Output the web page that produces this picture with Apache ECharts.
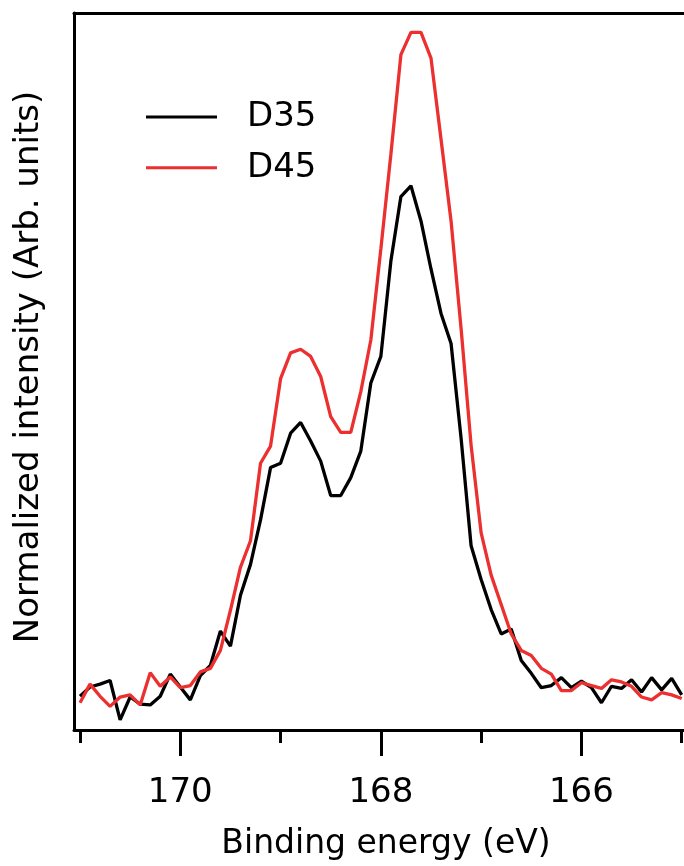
<!DOCTYPE html>
<html>
<head>
<meta charset="utf-8">
<title>S 2p spectra</title>
<script src="https://cdn.jsdelivr.net/npm/echarts@6/dist/echarts.min.js"></script>
<style>
  html, body { margin: 0; padding: 0; background: #fff; }
  #chart { width: 684px; height: 866px; }
</style>
</head>
<body>
<div id="chart"></div>
<script>
// Binding energy grid (eV), 0.1 eV steps from 171.0 down to 165.0
const energies = [
  171.0, 170.9, 170.8, 170.7, 170.6, 170.5, 170.4, 170.3, 170.2, 170.1,
  170.0, 169.9, 169.8, 169.7, 169.6, 169.5, 169.4, 169.3, 169.2, 169.1,
  169.0, 168.9, 168.8, 168.7, 168.6, 168.5, 168.4, 168.3, 168.2, 168.1,
  168.0, 167.9, 167.8, 167.7, 167.6, 167.5, 167.4, 167.3, 167.2, 167.1,
  167.0, 166.9, 166.8, 166.7, 166.6, 166.5, 166.4, 166.3, 166.2, 166.1,
  166.0, 165.9, 165.8, 165.7, 165.6, 165.5, 165.4, 165.3, 165.2, 165.1,
  165.0
];

// Normalized intensity, sample D35
const d35 = [
  4.7, 6.0, 6.4, 6.9, 1.4, 4.6, 3.6, 3.5, 4.7, 7.8,
  6.0, 4.2, 7.6, 9.0, 13.8, 11.7, 18.8, 23.1, 29.3, 36.6,
  37.2, 41.4, 42.9, 40.3, 37.5, 32.7, 32.7, 35.2, 38.9, 48.4,
  52.1, 65.4, 74.4, 75.9, 71.0, 64.3, 58.1, 53.9, 40.7, 25.7,
  21.0, 16.8, 13.4, 14.1, 9.7, 7.9, 5.9, 6.2, 7.3, 5.9,
  6.8, 5.9, 3.8, 6.1, 5.8, 7.0, 5.3, 7.3, 5.6, 7.2,
  4.9
];

// Normalized intensity, sample D45
const d45 = [
  3.8, 6.4, 4.7, 3.3, 4.6, 4.9, 3.5, 8.0, 6.1, 7.4,
  5.9, 6.2, 8.1, 8.6, 11.1, 16.7, 22.7, 26.4, 37.2, 39.6,
  49.0, 52.6, 53.1, 52.1, 49.3, 43.7, 41.5, 41.5, 47.2, 54.4,
  67.1, 80.3, 94.2, 97.3, 97.3, 93.7, 82.4, 71.0, 56.0, 39.7,
  27.5, 21.6, 17.5, 13.4, 11.1, 10.4, 8.6, 7.8, 5.5, 5.5,
  6.6, 6.2, 5.8, 7.0, 6.7, 6.1, 4.6, 4.2, 5.2, 4.9,
  4.4
];

const seriesNames = ['D35', 'D45'];
const majorTicks = [170, 168, 166];
const minorTicks = [171, 169, 167, 165];

const FONT = 'DejaVu Sans';
const X_MIN = 164.977, X_MAX = 171.06;
const LINE_W = 3.3;

const pairs = (vals) => energies.map((e, i) => [e, vals[i]]);

const chart = echarts.init(document.getElementById('chart'), null, { renderer: 'canvas' });

chart.setOption({
  animation: false,
  backgroundColor: '#ffffff',
  grid: { left: 74, top: 13, width: 610, height: 720, containLabel: false },
  legend: {
    show: true,
    orient: 'vertical',
    left: 146,
    top: 100,
    padding: 0,
    icon: 'rect',
    itemWidth: 71,
    itemHeight: 3,
    itemGap: 16.7,
    data: seriesNames,
    textStyle: { fontFamily: FONT, fontSize: 34, color: '#000', padding: [0, 0, 0, 25] }
  },
  xAxis: [
    {
      type: 'value',
      position: 'bottom',
      inverse: true,
      min: X_MIN,
      max: X_MAX,
      splitLine: { show: false },
      axisLine: { show: true, lineStyle: { color: '#000', width: 3 } },
      axisTick: { show: true, customValues: majorTicks, length: 26, lineStyle: { color: '#000', width: 3 } },
      axisLabel: { show: true, customValues: majorTicks, margin: 46, fontFamily: FONT, fontSize: 34, color: '#000' },
      name: 'Binding energy (eV)',
      nameLocation: 'middle',
      nameGap: 98,
      nameTextStyle: { fontFamily: FONT, fontSize: 33, color: '#000', padding: [0, 0, 0, 14] }
    },
    {
      type: 'value',
      position: 'bottom',
      inverse: true,
      min: X_MIN,
      max: X_MAX,
      splitLine: { show: false },
      axisLine: { show: false },
      axisTick: { show: true, customValues: minorTicks, length: 13, lineStyle: { color: '#000', width: 3 } },
      axisLabel: { show: false }
    },
    {
      type: 'value',
      position: 'top',
      inverse: true,
      min: X_MIN,
      max: X_MAX,
      splitLine: { show: false },
      axisLine: { show: true, lineStyle: { color: '#000', width: 3 } },
      axisTick: { show: false },
      axisLabel: { show: false }
    }
  ],
  yAxis: {
    type: 'value',
    min: 0,
    max: 100,
    splitLine: { show: false },
    axisLine: { show: true, lineStyle: { color: '#000', width: 3 } },
    axisTick: { show: false },
    axisLabel: { show: false },
    name: 'Normalized intensity (Arb. units)',
    nameLocation: 'middle',
    nameRotate: 90,
    nameGap: 28,
    nameTextStyle: { fontFamily: FONT, fontSize: 34, color: '#000', padding: [0, 0, 0, 9] }
  },
  series: [
    {
      name: seriesNames[0],
      type: 'line',
      xAxisIndex: 0,
      data: pairs(d35),
      symbol: 'none',
      lineStyle: { color: '#000000', width: LINE_W },
      itemStyle: { color: '#000000' }
    },
    {
      name: seriesNames[1],
      type: 'line',
      xAxisIndex: 0,
      data: pairs(d45),
      symbol: 'none',
      lineStyle: { color: '#ec2f2f', width: LINE_W },
      itemStyle: { color: '#ec2f2f' }
    }
  ]
});
</script>
</body>
</html>
